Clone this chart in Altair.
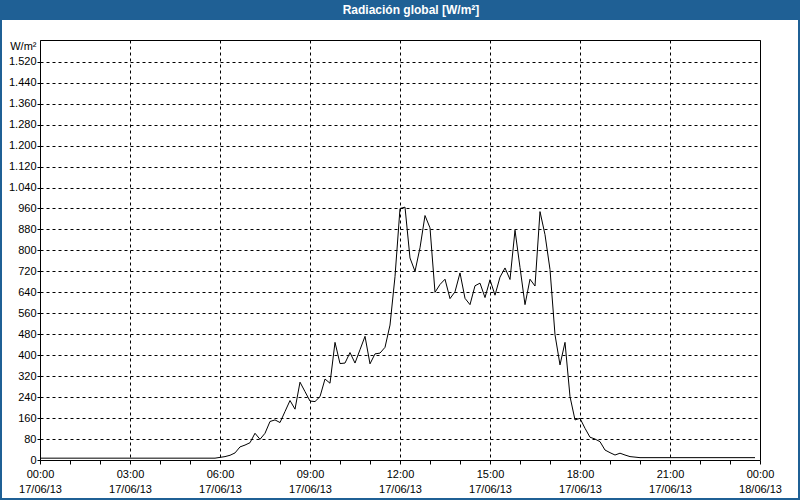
import altair as alt
import pandas as pd

# Global radiation (W/m²), 10-minute samples from 17/06/13 00:00 to 23:50
radiation = [
    7, 7, 7, 7, 7, 7,            # 00:00 - 00:50
    7, 7, 7, 7, 7, 7,            # 01:00
    7, 7, 7, 7, 7, 7,            # 02:00
    7, 7, 7, 7, 7, 7,            # 03:00
    7, 7, 7, 7, 7, 7,            # 04:00
    7, 7, 7, 7, 7, 7,            # 05:00
    10, 13, 18, 27, 50, 57,      # 06:00
    66, 102, 79, 102, 147, 153,  # 07:00
    143, 185, 227, 194, 297, 261,  # 08:00
    225, 223, 242, 309, 293, 449,  # 09:00
    368, 370, 410, 370, 421, 472,  # 10:00
    367, 405, 408, 430, 515, 700,  # 11:00
    960, 965, 771, 720, 810, 933,  # 12:00
    886, 640, 670, 690, 616, 642,  # 13:00
    714, 617, 593, 665, 675, 620,  # 14:00
    688, 629, 698, 733, 689, 877,  # 15:00
    735, 593, 690, 664, 948, 860,  # 16:00
    727, 478, 363, 449, 242, 153,  # 17:00
    159, 121, 87, 80, 70, 38,      # 18:00
    28, 19, 26, 19, 13, 11,        # 19:00
    9, 9, 9, 9, 9, 9,              # 20:00
    9, 9, 9, 9, 9, 9,              # 21:00
    9, 9, 9, 9, 9, 9,              # 22:00
    9, 9, 9, 9, 9, 9,              # 23:00
]
times = pd.date_range("2013-06-17 00:00", periods=len(radiation), freq="10min")
df = pd.DataFrame({"time": times, "value": radiation})

y_ticks = [0, 80, 160, 240, 320, 400, 480, 560, 640, 720, 800, 880, 960,
           1040, 1120, 1200, 1280, 1360, 1440, 1520]
tick_hours = [0, 1, 2, 3, 4, 5, 6, 7, 8, 9, 10, 11, 12, 13, 14, 15, 16, 17,
              18, 19, 20, 21, 22, 23]
x_ticks = [alt.DateTime(year=2013, month=6, date=17, hours=h) for h in tick_hours] + \
          [alt.DateTime(year=2013, month=6, date=18, hours=0)]
x_domain = [alt.DateTime(year=2013, month=6, date=17, hours=0),
            alt.DateTime(year=2013, month=6, date=18, hours=0)]

title_text = "Radiación global [W/m²]"
unit_text = "W/m²"
FONT = "Liberation Sans"
BLUE = "#1F6095"

line = alt.Chart(df).mark_line(color="black", strokeWidth=1).encode(
    x=alt.X(
        "time:T",
        scale=alt.Scale(domain=x_domain),
        axis=alt.Axis(
            values=x_ticks,
            labelExpr="hours(datum.value) % 3 == 0 ? [timeFormat(datum.value, '%H:%M'), timeFormat(datum.value, '%d/%m/%y')] : ''",
            grid=True, gridDash=[3, 3], gridColor="black",
            gridOpacity={"condition": {"test": "hours(datum.value) % 3 == 0", "value": 1}, "value": 0},
            domain=False, tickColor="black", tickSize=4,
            labelAlign="center", labelBaseline="top", labelLineHeight=15,
            labelPadding=4, labelOverlap=False, labelFlush=False, labelBound=False,
            labelFont=FONT, labelFontSize=11, labelColor="black", title="",
        ),
    ),
    y=alt.Y(
        "value:Q",
        scale=alt.Scale(domain=[0, 1603], nice=False, zero=True),
        axis=alt.Axis(
            values=y_ticks,
            labelExpr="replace(format(datum.value, ','), ',', '.')",
            grid=True, gridDash=[3, 3], gridColor="black",
            domain=False, tickColor="black", tickSize=3, labelPadding=1,
            labelFont=FONT, labelFontSize=11, labelColor="black",
            title=unit_text, titleAngle=0, titleAlign="right", titleBaseline="middle",
            titleX=-4, titleY=6, titleFont=FONT, titleFontSize=11,
            titleFontWeight="normal", titleColor="black",
        ),
    ),
)

one = alt.Data(values=[{"k": 1}])
bar_top = alt.Chart(one).mark_rect(color=BLUE).encode(
    x=alt.value(-40), x2=alt.value(760), y=alt.value(-40), y2=alt.value(-20))
bar_left = alt.Chart(one).mark_rect(color=BLUE).encode(
    x=alt.value(-40), x2=alt.value(-38), y=alt.value(-40), y2=alt.value(460))
bar_right = alt.Chart(one).mark_rect(color=BLUE).encode(
    x=alt.value(758), x2=alt.value(760), y=alt.value(-40), y2=alt.value(460))
bar_bottom = alt.Chart(one).mark_rect(color=BLUE).encode(
    x=alt.value(-40), x2=alt.value(760), y=alt.value(458), y2=alt.value(460))
title = alt.Chart(one).mark_text(
    color="white", font=FONT, fontSize=12, fontWeight="bold",
    align="center", baseline="middle").encode(
    x=alt.value(371), y=alt.value(-30), text=alt.value(title_text))

chart = alt.layer(bar_top, bar_left, bar_right, bar_bottom, line, title).properties(
    width=720, height=420,
    padding={"left": 40, "top": 40, "right": 40, "bottom": 40},
    autosize=alt.AutoSizeParams(type="none"),
    background="white",
).configure_view(stroke="black", strokeWidth=1)

chart.save("out.html", embed_options={"renderer": "svg", "actions": False})
